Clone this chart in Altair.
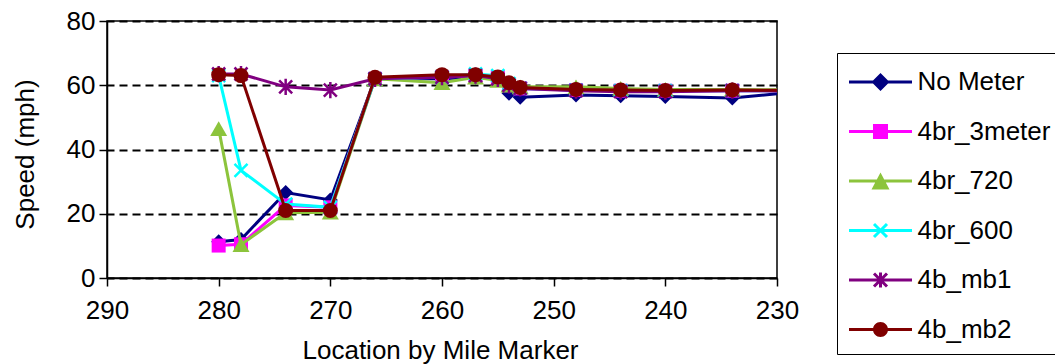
import altair as alt
import pandas as pd

# ---- data ----
miles = [280, 278, 274, 270, 266, 260, 257, 255, 254, 253, 248, 244, 240, 234, 228]
series_names = ["No Meter", "4br_3meter", "4br_720", "4br_600", "4b_mb1", "4b_mb2"]
no_meter  = [11.3, 12.0, 26.6, 24.3, 62.0, 62.0, 62.5, 62.0, 57.5, 56.3, 57.0, 56.7, 56.5, 56.0, 58.0]
br_3meter = [10.1, 10.5, 22.6, 22.0, 62.0, 62.5, 63.0, 62.5, 60.0, 59.0, 58.5, 58.3, 58.3, 58.3, 58.3]
br_720    = [46.5, 10.4, 20.3, 20.5, 62.0, 60.8, 62.5, 61.5, 60.0, 59.5, 59.5, 59.0, 58.7, 58.7, 58.5]
br_600    = [63.0, 33.5, 23.0, 22.0, 62.0, 62.5, 63.5, 63.0, 60.5, 59.0, 58.5, 58.3, 58.3, 58.3, 58.3]
b_mb1     = [63.5, 63.5, 59.5, 58.5, 62.0, 62.5, 63.0, 62.0, 60.0, 59.0, 58.3, 58.0, 58.0, 58.3, 58.2]
b_mb2     = [63.3, 63.0, 21.0, 21.0, 62.5, 63.3, 63.3, 62.6, 60.8, 59.3, 58.7, 58.5, 58.4, 58.5, 58.4]
x_ticks = [290, 280, 270, 260, 250, 240, 230]
y_ticks = [0, 20, 40, 60, 80]

colors = ["#000080", "#FF00FF", "#8CC43C", "#00FFFF", "#800080", "#800000"]

all_values = [no_meter, br_3meter, br_720, br_600, b_mb1, b_mb2]
rows = []
for name, vals in zip(series_names, all_values):
    for m, v in zip(miles, vals):
        rows.append({"series": name, "mile": m, "speed": v})
df = pd.DataFrame(rows)

FONT = "Liberation Sans"
FS = 26

x_enc = alt.X(
    "mile:Q",
    scale=alt.Scale(domain=[230, 290], reverse=True, nice=False, zero=False),
    axis=alt.Axis(
        values=x_ticks, grid=False, tickSize=8, tickWidth=1.5, tickColor="black",
        domainColor="black", domainWidth=1.5, labelFont=FONT, labelFontSize=FS,
        labelColor="black", labelPadding=11, labelFlush=False,
        title="Location by Mile Marker", titleFont=FONT, titleFontSize=FS,
        titleFontWeight="normal", titleColor="black", titleX=333, titleY=80,
        titleAlign="center", titleBaseline="alphabetic",
    ),
)
y_enc = alt.Y(
    "speed:Q",
    scale=alt.Scale(domain=[0, 80], nice=False),
    axis=alt.Axis(
        values=y_ticks, grid=True, gridColor="black", gridDash=[8, 5], gridWidth=2,
        tickSize=8, tickWidth=1.5, tickColor="black", domainColor="black", domainWidth=1.5,
        labelFont=FONT, labelFontSize=FS, labelColor="black", labelPadding=4,
        title="Speed (mph)", titleFont=FONT, titleFontSize=FS, titleFontWeight="normal",
        titleColor="black", titleAngle=270, titleX=-82, titleY=133,
        titleAlign="center", titleBaseline="middle",
    ),
)

# marker styles in the plot
marker_shapes = ["diamond", "square", "triangle-up", "M-1,-1L1,1M-1,1L1,-1",
                 "M-1,-1L1,1M-1,1L1,-1M0,-1.25L0,1.25", "circle"]
marker_filled = [True, True, True, False, False, True]
marker_sizes = [225, 196, 289, 169, 169, 225]

layers = []
for name, col, shp, fil, sz in zip(series_names, colors, marker_shapes, marker_filled, marker_sizes):
    b = alt.Chart(df).transform_filter(alt.datum.series == name)
    layers.append(b.mark_line(color=col, strokeWidth=3, clip=True).encode(x=x_enc, y=y_enc))
    if fil:
        pm = b.mark_point(shape=shp, filled=True, color=col, size=sz, opacity=1, clip=True)
    else:
        pm = b.mark_point(shape=shp, filled=False, color=col, size=sz, opacity=1,
                          strokeWidth=2.5, clip=True)
    layers.append(pm.encode(x=x_enc, y=y_enc))

# legend symbols: line segment + marker as one filled path (1 unit = 18 px)
ln = "M-1.75,-0.083H1.75V0.083H-1.75Z"
xb = "M-0.42,-0.302L-0.302,-0.42L0.42,0.302L0.302,0.42Z" \
     "M-0.42,0.302L0.302,-0.42L0.42,-0.302L-0.302,0.42Z"
legend_paths = [
    ln + "M0,-0.5L0.5,0L0,0.5L-0.5,0Z",
    ln + "M-0.417,-0.417H0.417V0.417H-0.417Z",
    ln + "M0,-0.472L0.5,0.472L-0.5,0.472Z",
    ln + xb,
    ln + xb + "M-0.083,-0.417H0.083V0.417H-0.083Z",
    ln + "M-0.417,0A0.417,0.417 0 1,1 0.417,0A0.417,0.417 0 1,1 -0.417,0Z",
]

leg = alt.Legend(
    title=None, orient="none", legendX=730, legendY=32, symbolSize=1296,
    symbolStrokeWidth=0, labelFont=FONT, labelFontSize=FS, labelColor="black",
    labelOffset=19, symbolOffset=14.5, padding=11, rowPadding=18.5, labelLimit=0,
    strokeColor="black", fillColor="white", cornerRadius=0,
)
legend_layer = alt.Chart(df).transform_filter("false").mark_point(
    filled=True, opacity=1, size=1296
).encode(
    color=alt.Color("series:N", scale=alt.Scale(domain=series_names, range=colors), legend=leg),
    shape=alt.Shape("series:N", scale=alt.Scale(domain=series_names, range=legend_paths), legend=leg),
)
layers.append(legend_layer)

chart = alt.layer(*layers).properties(
    width=670, height=257,
    padding={"left": 107, "top": 21, "right": 278, "bottom": 86},
    autosize=alt.AutoSizeParams(type="none"),
    background="white",
).configure_view(stroke="black", strokeWidth=1.5)

chart.save("out.html", embed_options={"renderer": "svg", "actions": False})
